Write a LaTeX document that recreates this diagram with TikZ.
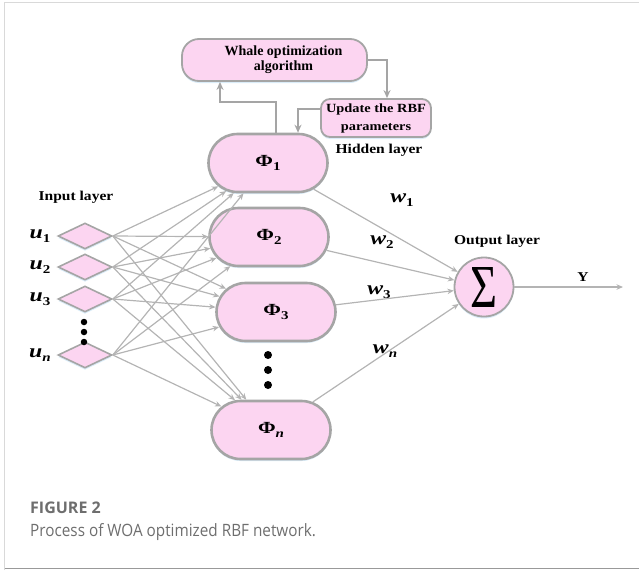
\documentclass[tikz,border=0pt]{standalone}
\usepackage{fontspec}
\usepackage{graphicx}
\setmainfont{Liberation Serif}
\newfontfamily\capfont{Open Sans}
\newfontfamily\capfontnarrow[FakeStretch=0.9]{Open Sans}
\newfontfamily\lblfont[FakeStretch=1.15]{Liberation Serif}
\newfontfamily\mathlike[FakeStretch=1.25]{Liberation Serif}
\newcommand{\lblsub}[2]{{\mathlike\fontsize{19}{19}\selectfont\bfseries\itshape #1}\raisebox{-4pt}{\mathlike\fontsize{12}{12}\selectfont\bfseries #2}}
\newcommand{\phisubx}[1]{{\mathlike\fontsize{17}{17}\selectfont\bfseries Φ}\raisebox{-4pt}{\mathlike\fontsize{12}{12}\selectfont\bfseries #1}}
\usetikzlibrary{shapes.misc,shapes.geometric,arrows.meta,shadows}
\definecolor{pinkfill}{RGB}{252,213,241}
\definecolor{edgegray}{RGB}{165,165,165}
\definecolor{linegray}{RGB}{180,180,180}
\definecolor{glow}{RGB}{218,236,248}
\definecolor{captext}{RGB}{110,110,110}
\begin{document}
\begin{tikzpicture}[x=1pt,y=-1pt,
  glowshadow/.style={drop shadow={shadow xshift=0pt,shadow yshift=-2pt,fill=glow,opacity=1}},
  hidnode/.style={rounded rectangle,draw=edgegray,line width=2.6pt,fill=pinkfill,
    minimum width=119pt,minimum height=58pt,inner sep=0pt,glowshadow},
  inpnode/.style={diamond,draw=edgegray,line width=1.6pt,fill=pinkfill,
    minimum width=54pt,minimum height=26pt,inner sep=0pt,glowshadow},
  sumnode/.style={circle,draw=edgegray,line width=1.8pt,fill=pinkfill,
    minimum size=59pt,inner sep=0pt,glowshadow},
  algbox/.style={rectangle,rounded corners=17pt,draw=edgegray,line width=1.8pt,fill=pinkfill,
    minimum width=185pt,minimum height=42pt,align=center,glowshadow,
    font=\fontsize{14}{15}\selectfont\bfseries},
  updbox/.style={rectangle,rounded corners=9pt,draw=edgegray,line width=1.8pt,fill=pinkfill,
    minimum width=110pt,minimum height=38pt,align=center,glowshadow,
    font=\lblfont\fontsize{12.5}{18}\selectfont\bfseries},
  lbl/.style={font=\lblfont\fontsize{13.5}{15}\selectfont\bfseries},
  conn/.style={draw=linegray,line width=1.2pt,-{Stealth[length=6.5pt,width=5.5pt]}},
  fb/.style={draw=edgegray,line width=1.4pt,-{Stealth[length=8pt,width=7pt]}},
  dotn/.style={circle,fill=black,inner sep=0pt}
]
\useasboundingbox (0,0) rectangle (639,570);
% frame
\draw[color=black!15,line width=1.5pt] (4.5,570) -- (4.5,2.5) -- (639,2.5);
\draw[color=black!40,line width=1.5pt] (4.5,568.5) -- (639,568.5);

% nodes
\node[algbox] (woa) at (274.5,60) {\hspace*{18pt}Whale optimization\\\hspace*{18pt}algorithm};
\node[updbox] (upd) at (376,118) {Update the RBF\\parameters};

\node[hidnode] (p1) at (268,163) {\phisubx{1}};
\node[hidnode] (p2) at (269,237) {\phisubx{2}};
\node[hidnode] (p3) at (276,312) {\phisubx{3}};
\node[hidnode] (pn) at (271,430) {\phisubx{\itshape n}};

\node[inpnode] (u1) at (85,236) {};
\node[inpnode] (u2) at (85,267) {};
\node[inpnode] (u3) at (85,299) {};
\node[inpnode] (un) at (85,355) {};

\node[sumnode] (s) at (484,287) {\resizebox{27pt}{40pt}{Σ}};

% labels
\node[lbl] (hl) at (379,150) {Hidden layer};
\node[lbl] (il) at (76,197) {Input layer};
\node[lbl] (ol) at (497,241) {Output layer};
\node[lbl] (yl) at (583,277) {Y};

\node (lu1) at (40,236) {\lblsub{u}{1}};
\node (lu2) at (40,267) {\lblsub{u}{2}};
\node (lu3) at (40,299) {\lblsub{u}{3}};
\node (lun) at (40,355) {\lblsub{u}{\itshape n}};

\node (w1) at (402,200) {\lblsub{w}{1}};
\node (w2) at (382,242) {\lblsub{w}{2}};
\node (w3) at (379,292) {\lblsub{w}{3}};
\node (wn) at (385,351) {\lblsub{w}{\itshape n}};

% dots
\foreach \yy [count=\i] in {322,332,342} \node[dotn,minimum size=6.5pt] (di\i) at (84,\yy) {};
\foreach \yy [count=\i] in {355,370,385} \node[dotn,minimum size=8pt] (dh\i) at (268,\yy) {};

% feedback loop
\draw[fb] (woa.east) -| ([xshift=11pt]upd.north);
\draw[fb] ([yshift=9pt]upd.west) -| ([xshift=30pt]p1.north);
\draw[fb] ([xshift=8pt]p1.north) |- ([xshift=-54.5pt,yshift=-20pt]woa.south) -- ([xshift=-54.5pt]woa.south);

% input to hidden
\foreach \u in {u1,u2,u3,un}
  \foreach \p in {p1,p2,p3,pn}
    \draw[conn] (\u.east) -- (\p);

% hidden to output
\foreach \p in {p1,p2,p3,pn}
  \draw[conn] (\p) -- (s);
\coordinate (yend) at (623,287);
\draw[conn] (s) -- (yend);

% caption
\node[anchor=west,font=\capfont\fontsize{16}{18}\selectfont\bfseries,text=captext,inner sep=0pt] (fig) at (30,508) {FIGURE 2};
\node[anchor=west,font=\capfontnarrow\fontsize{17}{19}\selectfont,text=captext,inner sep=0pt] (cap) at (30,532) {Process of WOA optimized RBF network.};
\end{tikzpicture}
\end{document}
